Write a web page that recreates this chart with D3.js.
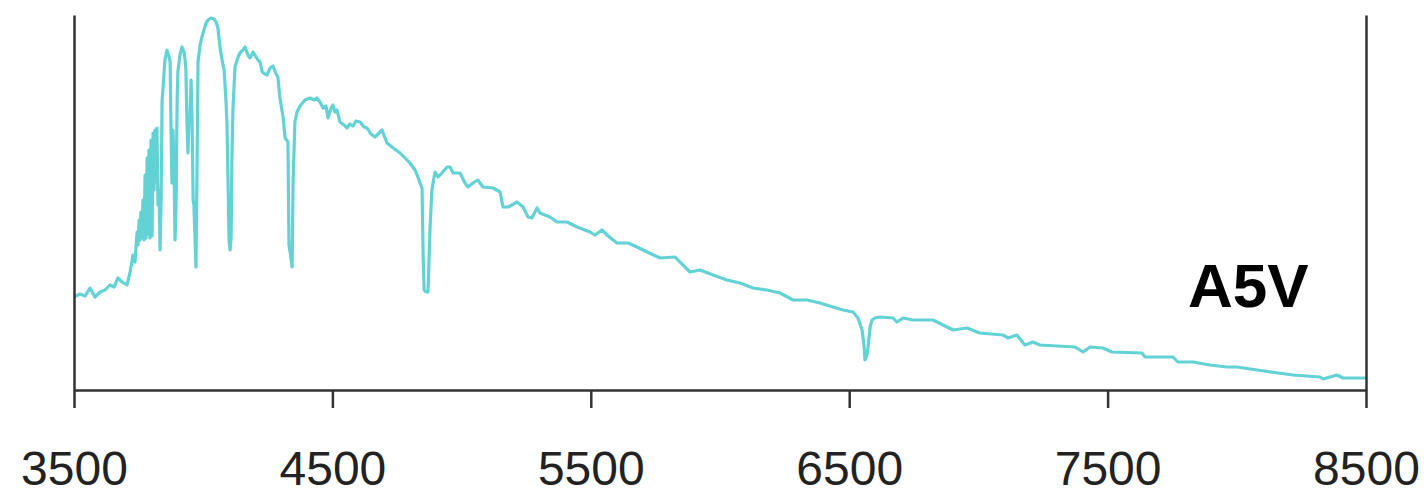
<!DOCTYPE html>
<html>
<head>
<meta charset="utf-8">
<script src="https://cdn.jsdelivr.net/npm/d3@7"></script>
<style>
  html, body { margin: 0; padding: 0; background: #fff; }
  svg { display: block; }
</style>
</head>
<body>
<svg id="chart" width="1427" height="495"></svg>
<script>
// Spectrum of an A5V star: wavelength (Å) and relative flux (arbitrary units)
const wavelength = [
  3500,3523,3543,3562,3581,3601,3620,3639,3655,3670,3686,3705,3717,3724,3728,3736,
  3744,3748,3752,3755,3759,3763,3767,3771,3775,3779,3783,3786,3790,3794,3798,3802,
  3806,3810,3813,3817,3821,3825,3829,3833,3837,3841,3844,3852,3860,3868,3872,3875,
  3879,3883,3887,3891,3895,3899,3902,3910,3918,3926,3930,3933,3937,3941,3945,3949,
  3953,3957,3961,3964,3968,3972,3976,3980,3988,3995,4003,4011,4019,4030,4042,4050,
  4057,4065,4073,4081,4088,4092,4096,4100,4104,4108,4111,4115,4123,4135,4142,4154,
  4162,4173,4181,4193,4200,4212,4220,4228,4239,4247,4259,4270,4282,4289,4297,4309,
  4317,4328,4332,4340,4344,4348,4355,4363,4375,4394,4413,4429,4440,4452,4464,4475,
  4483,4495,4502,4510,4518,4529,4545,4556,4568,4580,4591,4607,4622,4634,4649,
  4665,4692,4711,4735,4762,4781,4800,4820,4831,4839,4847,4851,4855,4862,4870,4878,
  4885,4897,4909,4924,4944,4955,4967,4994,5013,5025,5044,5063,5083,5122,5149,5160,
  5180,5214,5238,5257,5272,5292,5303,5342,5369,5408,5447,5497,5516,5543,5567,5601,
  5644,5679,5718,5768,5826,5845,5884,5923,5973,6027,6077,6128,6182,6232,6283,6337,
  6387,6437,6476,6515,6534,6550,6557,6561,6569,6573,6581,6588,6600,6619,6670,6685,
  6708,6747,6824,6863,6902,6956,6995,7006,7095,7115,7149,7180,7211,7238,7374,7405,
  7432,7482,7517,7633,7645,7753,7772,7831,7896,7962,8001,8078,8160,8218,8322,8334,
  8388,8411,8500
];
const flux = [
  93,96,94,102,93,98,100,105,103,112,108,105,118,128,135,128,
  158,145,170,150,178,152,190,150,215,152,232,156,240,152,250,154,
  257,200,260,208,262,185,200,140,190,290,300,330,340,333,328,270,
  207,260,225,150,185,290,318,335,343,338,330,320,270,237,270,273,
  310,270,190,185,155,123,220,328,345,353,360,367,370,372,371,368,
  362,343,330,320,290,267,210,150,140,152,230,280,323,333,337,340,
  343,335,332,338,335,330,328,318,316,315,322,324,316,313,292,273,
  252,248,145,132,123,210,268,278,284,290,292,290,292,288,282,284,
  272,282,285,278,280,268,265,262,266,264,269,268,263,262,256,
  253,260,247,242,237,232,227,220,213,207,202,137,100,98,98,163,
  200,218,213,217,223,223,217,217,207,203,207,210,203,202,198,183,
  183,188,183,173,172,182,177,173,168,168,163,158,155,160,154,147,
  147,143,138,132,133,128,118,120,115,110,107,102,100,97,90,90,
  87,83,80,78,72,60,45,30,35,43,63,70,72,73,72,68,
  72,70,70,65,60,62,58,57,55,52,55,45,48,45,43,38,
  43,42,38,37,33,33,28,28,25,23,23,20,17,15,13,11,
  15,12,12
];
const xTicks = [3500, 4500, 5500, 6500, 7500, 8500];
const label = "A5V";

const data = wavelength.map((w, i) => ({ w, f: flux[i] }));

const svg = d3.select("#chart");
const mLeft = 74, mRight = 1366, mTop = 15, mBottom = 390;

const x = d3.scaleLinear().domain([3500, 8500]).range([mLeft, mRight]);
const y = d3.scaleLinear().domain([0, 375]).range([mBottom, mTop]);

const axisColor = "#333";

// spectrum
const line = d3.line().x(d => x(d.w)).y(d => y(d.f));
svg.append("path")
  .datum(data)
  .attr("d", line)
  .attr("fill", "none")
  .attr("stroke", "#62d2d4")
  .attr("stroke-width", 3.2)
  .attr("stroke-linejoin", "round");

// left & right frame axes
const yAxisL = d3.axisLeft(y).tickValues([]).tickSizeOuter(0);
const yAxisR = d3.axisRight(y).tickValues([]).tickSizeOuter(0);
svg.append("g").attr("transform", `translate(${mLeft},0)`).call(yAxisL)
  .select(".domain").attr("stroke", axisColor).attr("stroke-width", 2.5);
svg.append("g").attr("transform", `translate(${mRight},0)`).call(yAxisR)
  .select(".domain").attr("stroke", axisColor).attr("stroke-width", 2.5);

// bottom axis
const xAxis = d3.axisBottom(x).tickValues(xTicks).tickSize(18).tickSizeOuter(0).tickFormat(d3.format("d"));
const gx = svg.append("g").attr("transform", `translate(0,${mBottom})`).call(xAxis);
gx.select(".domain").attr("stroke", axisColor).attr("stroke-width", 2.5);
gx.selectAll(".tick line").attr("stroke", axisColor).attr("stroke-width", 2.5);
gx.selectAll(".tick text")
  .attr("y", 95).attr("dy", 0)
  .attr("fill", "#222")
  .style("font-family", "'Liberation Sans', Arial, sans-serif")
  .style("font-size", "48px");

// label
svg.append("text")
  .attr("x", 1188).attr("y", 307)
  .attr("fill", "#000")
  .style("font-family", "'Liberation Sans', Arial, sans-serif")
  .style("font-weight", "bold")
  .style("font-size", "62px")
  .text(label);
</script>
</body>
</html>
